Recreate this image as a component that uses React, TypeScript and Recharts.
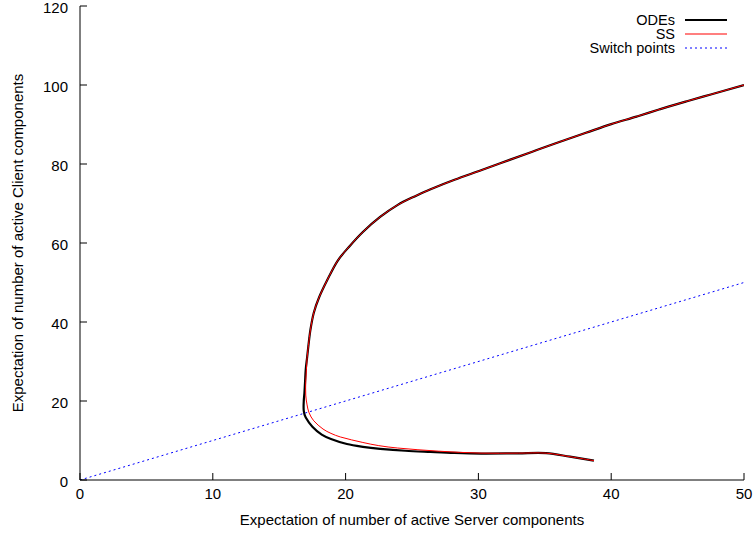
import React from 'react';
import { LineChart, Line, XAxis, YAxis, Legend } from 'recharts';

// ---- data ----
const odeX = [38.7, 36.9, 35.1, 33.0, 30.2, 28.2, 26.4, 24.5, 22.6, 21.3, 20.1, 18.9, 18.2, 17.5, 17.0, 16.85, 16.85, 16.9, 16.95, 17.0, 17.1, 17.2, 17.35, 17.6, 18.0, 18.6, 19.4, 20.3, 21.3, 22.6, 23.9, 25.2, 26.4, 28.2, 30.2, 32.4, 34.3, 36.2, 38.1, 40.0, 41.9, 43.7, 45.6, 47.5, 50.0];
const odeY = [4.9, 5.9, 6.8, 6.75, 6.7, 6.85, 7.1, 7.4, 7.9, 8.4, 9.1, 10.4, 11.5, 13.5, 15.8, 17.5, 20.0, 22.0, 25.0, 28.0, 31.0, 34.0, 38.0, 42.3, 46.2, 50.5, 55.5, 59.2, 62.8, 66.6, 69.6, 71.8, 73.6, 76.0, 78.4, 81.1, 83.4, 85.7, 87.9, 90.1, 92.0, 93.9, 95.8, 97.6, 100.0];

const ssX = [38.7, 36.9, 35.1, 33.0, 30.2, 27.0, 23.9, 22.5, 21.3, 19.6, 18.9, 18.3, 17.6, 17.25, 17.1, 17.0, 17.0, 17.05, 17.1, 17.2, 17.35, 17.6, 18.0, 18.6, 19.4, 20.3, 21.3, 22.6, 23.9, 25.2, 26.4, 28.2, 30.2, 32.4, 34.3, 36.2, 38.1, 40.0, 41.9, 43.7, 45.6, 47.5, 50.0];
const ssY = [4.9, 5.9, 6.8, 6.8, 6.8, 7.3, 8.1, 8.7, 9.5, 10.9, 11.8, 12.9, 15.0, 17.0, 19.0, 21.5, 25.0, 28.0, 31.0, 34.0, 38.0, 42.3, 46.2, 50.5, 55.5, 59.2, 62.8, 66.6, 69.6, 71.8, 73.6, 76.0, 78.4, 81.1, 83.4, 85.7, 87.9, 90.1, 92.0, 93.9, 95.8, 97.6, 100.0];

const switchX = [0, 50];
const switchY = [0, 50];

const xTicks = [0, 10, 20, 30, 40, 50];
const yTicks = [0, 20, 40, 60, 80, 100, 120];
const seriesNames = ['ODEs', 'SS', 'Switch points'];
const xTitle = 'Expectation of number of active Server components';
const yTitle = 'Expectation of number of active Client components';

const zip = (xs: number[], ys: number[]) => xs.map((x, i) => ({ x, y: ys[i] }));
const odeData = zip(odeX, odeY);
const ssData = zip(ssX, ssY);
const switchData = zip(switchX, switchY);

// ---- layout ----
const W = 755;
const H = 534;
const LEFT = 80;
const RIGHT = 744;
const TOP = 6;
const BOTTOM = 480;
const TICK = 7;
const FONT = '"Liberation Sans", Arial, Helvetica, sans-serif';
const FS = 15;

// chord-length scaled Catmull-Rom curve (passes through every point, no overshoot)
const smoothCurve = (context: any) => {
  let pts: number[][] = [];
  return {
    areaStart() {},
    areaEnd() {},
    lineStart() {
      pts = [];
    },
    point(x: number, y: number) {
      pts.push([+x, +y]);
    },
    lineEnd() {
      const n = pts.length;
      if (!n) return;
      context.moveTo(pts[0][0], pts[0][1]);
      const d = (a: number[], b: number[]) => Math.hypot(b[0] - a[0], b[1] - a[1]) || 1e-6;
      for (let i = 0; i < n - 1; i++) {
        const p0 = pts[i - 1] || pts[i];
        const p1 = pts[i];
        const p2 = pts[i + 1];
        const p3 = pts[i + 2] || pts[i + 1];
        const d01 = i === 0 ? d(p1, p2) : d(p0, p1);
        const d12 = d(p1, p2);
        const d23 = i + 2 >= n ? d(p1, p2) : d(p2, p3);
        const t1x = (p2[0] - p0[0]) / (d01 + d12);
        const t1y = (p2[1] - p0[1]) / (d01 + d12);
        const t2x = (p3[0] - p1[0]) / (d12 + d23);
        const t2y = (p3[1] - p1[1]) / (d12 + d23);
        const c1x = p1[0] + (t1x * d12) / 3;
        const c1y = p1[1] + (t1y * d12) / 3;
        const c2x = p2[0] - (t2x * d12) / 3;
        const c2y = p2[1] - (t2y * d12) / 3;
        context.bezierCurveTo(c1x, c1y, c2x, c2y, p2[0], p2[1]);
      }
    },
  };
};

const BottomTick = (props: any) => {
  const { x, payload } = props;
  return (
    <g>
      <line x1={x} x2={x} y1={BOTTOM} y2={BOTTOM - TICK} stroke="#000" strokeWidth={1} />
      <text x={x} y={BOTTOM + 13} textAnchor="middle" dominantBaseline="central" fontFamily={FONT} fontSize={FS} fill="#000">
        {payload.value}
      </text>
    </g>
  );
};

const TopTick = (props: any) => {
  const { x } = props;
  return <line x1={x} x2={x} y1={TOP} y2={TOP + TICK} stroke="#000" strokeWidth={1} />;
};

const LeftTick = (props: any) => {
  const { y, payload } = props;
  return (
    <g>
      <line x1={LEFT} x2={LEFT + TICK} y1={y} y2={y} stroke="#000" strokeWidth={1} />
      <text x={LEFT - 12} y={y + 1} textAnchor="end" dominantBaseline="central" fontFamily={FONT} fontSize={FS} fill="#000">
        {payload.value}
      </text>
    </g>
  );
};

const RightTick = (props: any) => {
  const { y } = props;
  return <line x1={RIGHT} x2={RIGHT - TICK} y1={y} y2={y} stroke="#000" strokeWidth={1} />;
};

const LegendBox = () => {
  const rows = [
    { name: seriesNames[0], stroke: '#000000', width: 2.2, dash: undefined as string | undefined },
    { name: seriesNames[1], stroke: '#ff0000', width: 1.2, dash: undefined },
    { name: seriesNames[2], stroke: '#0000ff', width: 1, dash: '2 3' },
  ];
  return (
    <svg width={W} height={60} style={{ display: 'block' }}>
      {rows.map((r, i) => {
        const cy = 20 + i * 14;
        return (
          <g key={r.name}>
            <text x={675} y={cy} textAnchor="end" dominantBaseline="central" fontFamily={FONT} fontSize={14.5} fill="#000">
              {r.name}
            </text>
            <line x1={685} x2={727} y1={cy} y2={cy} stroke={r.stroke} strokeWidth={r.width} strokeDasharray={r.dash} />
          </g>
        );
      })}
    </svg>
  );
};

export default function App() {
  return (
    <div style={{ position: 'absolute', left: 0, top: 0, width: W, height: H, background: '#fff' }}>
      <LineChart width={W} height={H} margin={{ top: TOP, right: W - RIGHT, bottom: 0, left: 0 }}>
        <XAxis
          xAxisId="b"
          type="number"
          dataKey="x"
          domain={[0, 50]}
          ticks={xTicks}
          allowDataOverflow
          height={H - BOTTOM}
          axisLine={{ stroke: '#000', strokeWidth: 1 }}
          tickLine={false}
          tick={<BottomTick />}
          interval={0}
          label={{ value: xTitle, position: 'insideBottom', offset: 9, fontFamily: FONT, fontSize: FS, fill: '#000' }}
        />
        <XAxis
          xAxisId="t"
          orientation="top"
          type="number"
          dataKey="x"
          domain={[0, 50]}
          ticks={xTicks}
          allowDataOverflow
          height={0}
          axisLine={{ stroke: '#000', strokeWidth: 1 }}
          tickLine={false}
          tick={<TopTick />}
          interval={0}
        />
        <YAxis
          yAxisId="l"
          type="number"
          dataKey="y"
          domain={[0, 120]}
          ticks={yTicks}
          allowDataOverflow
          width={LEFT}
          axisLine={{ stroke: '#000', strokeWidth: 1 }}
          tickLine={false}
          tick={<LeftTick />}
          interval={0}
          label={{ value: yTitle, angle: -90, position: 'insideLeft', offset: 18, fontFamily: FONT, fontSize: FS, fill: '#000', style: { textAnchor: 'middle' } }}
        />
        <YAxis
          yAxisId="r"
          orientation="right"
          type="number"
          dataKey="y"
          domain={[0, 120]}
          ticks={yTicks}
          allowDataOverflow
          width={0}
          axisLine={{ stroke: '#000', strokeWidth: 1 }}
          tickLine={false}
          tick={<RightTick />}
          interval={0}
        />
        <Legend
          layout="horizontal"
          verticalAlign="middle"
          align="center"
          content={() => <LegendBox />}
          wrapperStyle={{ left: 0, top: 0, width: W, height: 60, pointerEvents: 'none' }}
        />
        <Line
          xAxisId="b"
          yAxisId="l"
          data={odeData}
          dataKey="y"
          name={seriesNames[0]}
          type={smoothCurve as any}
          stroke="#000"
          strokeWidth={2.2}
          dot={false}
          activeDot={false}
          isAnimationActive={false}
        />
        <Line
          xAxisId="b"
          yAxisId="l"
          data={ssData}
          dataKey="y"
          name={seriesNames[1]}
          type={smoothCurve as any}
          stroke="#ff0000"
          strokeWidth={1}
          dot={false}
          activeDot={false}
          isAnimationActive={false}
        />
        <Line
          xAxisId="b"
          yAxisId="l"
          data={switchData}
          dataKey="y"
          name={seriesNames[2]}
          type="linear"
          stroke="#0000ff"
          strokeWidth={1}
          strokeDasharray="2 3"
          dot={false}
          activeDot={false}
          isAnimationActive={false}
        />
      </LineChart>
    </div>
  );
}
